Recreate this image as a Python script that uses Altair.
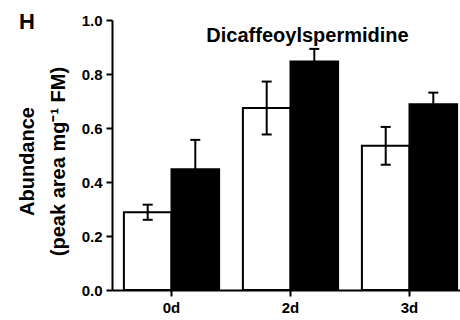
import altair as alt
import pandas as pd

days = ["0d", "2d", "3d"]
groups = ["Control", "Treated"]
means_control = [0.288, 0.674, 0.534]
errs_control = [0.028, 0.098, 0.070]
means_treated = [0.447, 0.846, 0.688]
errs_treated = [0.109, 0.047, 0.043]
compound = "Dicaffeoylspermidine"
panel_letter = "H"

rows = []
for i, d in enumerate(days):
    rows.append({"day": d, "group": groups[0], "mean": means_control[i], "err": errs_control[i]})
    rows.append({"day": d, "group": groups[1], "mean": means_treated[i], "err": errs_treated[i]})
df = pd.DataFrame(rows)

FONT = "Liberation Sans"

x_enc = alt.X(
    "day:N",
    sort=days,
    scale=alt.Scale(domain=days, range=[0, 357], paddingInner=0.2, paddingOuter=0.1),
    axis=alt.Axis(
        title=None, labelAngle=0, labelFontSize=15, labelFontWeight="bold",
        labelFont=FONT, labelColor="black", tickSize=6, labelPadding=4,
    ),
)
xoff = alt.XOffset("group:N", scale=alt.Scale(domain=groups, paddingInner=0, paddingOuter=0))

base = alt.Chart(df).transform_calculate(
    lo="datum.mean - datum.err", hi="datum.mean + datum.err"
)

y_axis = alt.Axis(
    values=[0, 0.2, 0.4, 0.6, 0.8, 1.0], format=".1f",
    title=["Abundance", "(peak area mg⁻¹ FM)"],
    titleFontSize=20, titleFont=FONT, titleFontWeight="bold", titleColor="black",
    titleAngle=-90, titleBaseline="alphabetic", titleAlign="center",
    titleX=-79, titleY=141, titleLineHeight=31,
    labelFontSize=15, labelFontWeight="bold", labelFont=FONT, labelColor="black",
    tickSize=6, labelPadding=4,
)

bars = base.mark_bar(strokeWidth=2, stroke="black", opacity=1).encode(
    x=x_enc,
    xOffset=xoff,
    y=alt.Y("mean:Q", scale=alt.Scale(domain=[0, 1]), axis=y_axis),
    fill=alt.Fill("group:N", scale=alt.Scale(domain=groups, range=["white", "black"]), legend=None),
)

rule = base.mark_rule(strokeWidth=2, color="black").encode(
    x=x_enc, xOffset=xoff, y="lo:Q", y2="hi:Q"
)
cap_hi = base.mark_tick(size=10, thickness=2, color="black", opacity=1).encode(
    x=x_enc, xOffset=xoff, y="hi:Q"
)
cap_lo = base.mark_tick(size=10, thickness=2, color="black", opacity=1).encode(
    x=x_enc, xOffset=xoff, y="lo:Q"
)

panel = alt.Chart(pd.DataFrame({"t": [panel_letter]})).mark_text(
    font=FONT, fontSize=22, fontWeight="bold", align="left", baseline="alphabetic", color="black"
).encode(text="t:N", x=alt.value(-93), y=alt.value(9))

title_txt = alt.Chart(pd.DataFrame({"t": [compound]})).mark_text(
    font=FONT, fontSize=20, fontWeight="bold", align="center", baseline="alphabetic", color="black"
).encode(text="t:N", x=alt.value(195.5), y=alt.value(21.5))

chart = alt.layer(bars, rule, cap_hi, cap_lo, panel, title_txt).properties(
    width=348, height=270,
    autosize=alt.AutoSizeParams(type="none"),
    padding={"left": 112, "top": 20, "right": 0, "bottom": 30},
).configure_view(stroke=None).configure_axis(
    domainColor="black", domainWidth=2, tickColor="black", tickWidth=2, grid=False
)

chart.save("out.html", embed_options={"renderer": "svg", "actions": False})
